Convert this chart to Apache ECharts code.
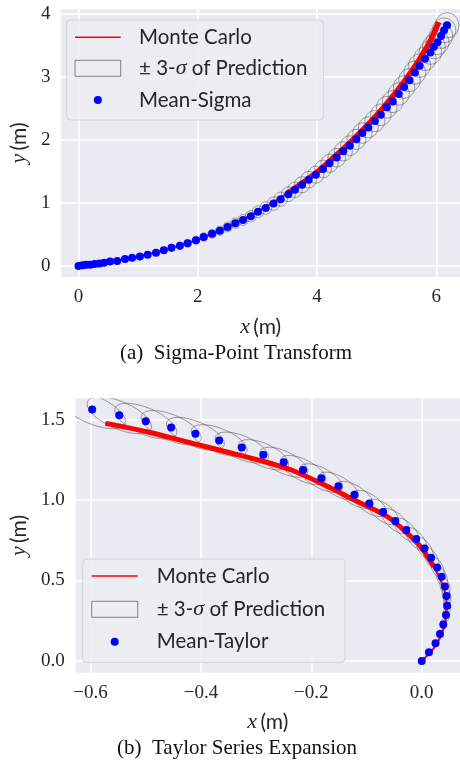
<!DOCTYPE html>
<html><head><meta charset="utf-8">
<script src="https://cdn.jsdelivr.net/npm/echarts@6/dist/echarts.min.js"></script>
<style>html,body{margin:0;padding:0;background:#fff}#c{width:460px;height:771px}</style>
</head><body><div id="c"></div>
<script>
// ---------- (a) Sigma-Point Transform ----------
const sigmaX = [0.00,0.07,0.13,0.20,0.27,0.35,0.43,0.53,0.65,0.78,0.90,1.03,1.16,1.30,1.43,1.56,1.70,1.83,1.97,2.10,2.24,2.37,2.50,2.63,2.76,2.89,3.01,3.14,3.27,3.39,3.52,3.63,3.75,3.86,3.98,4.10,4.21,4.33,4.44,4.55,4.66,4.76,4.86,4.97,5.07,5.17,5.27,5.37,5.46,5.55,5.64,5.72,5.81,5.90,5.96,6.02,6.08,6.13,6.18];
const sigmaY = [0.00,0.01,0.02,0.02,0.03,0.04,0.05,0.07,0.08,0.11,0.13,0.15,0.18,0.21,0.25,0.29,0.32,0.36,0.41,0.46,0.51,0.56,0.62,0.68,0.73,0.79,0.86,0.92,0.99,1.06,1.14,1.21,1.29,1.37,1.45,1.54,1.63,1.72,1.82,1.91,2.01,2.11,2.20,2.30,2.40,2.52,2.61,2.73,2.84,2.95,3.07,3.18,3.29,3.39,3.48,3.55,3.65,3.74,3.82];
// 3-sigma radius (m) of each prediction
const sigma3R = [0.005,0.008,0.011,0.015,0.018,0.021,0.024,0.028,0.031,0.034,0.037,0.041,0.044,0.047,0.050,0.053,0.057,0.060,0.063,0.066,0.070,0.073,0.077,0.081,0.086,0.090,0.095,0.100,0.106,0.112,0.117,0.122,0.127,0.131,0.135,0.139,0.143,0.147,0.151,0.155,0.158,0.161,0.164,0.167,0.170,0.172,0.174,0.176,0.178,0.180,0.182,0.184,0.186,0.188,0.190,0.192,0.194,0.196,0.198];
const mcTopX = [0,0.5,1.0,1.5,2.0,2.5,3.0,3.5,4.0,4.3,4.62,5.10,5.52,5.86,6.04];
const mcTopY = [0,0.06,0.15,0.27,0.42,0.62,0.86,1.15,1.49,1.74,2.02,2.50,3.00,3.50,3.87];
const topXTicks = [0,2,4,6];
const topYTicks = [0,1,2,3,4];

// ---------- (b) Taylor Series Expansion ----------
const taylorX = [0.000,0.013,0.025,0.033,0.039,0.044,0.046,0.045,0.042,0.036,0.028,0.017,0.005,-0.010,-0.028,-0.048,-0.070,-0.095,-0.122,-0.151,-0.182,-0.215,-0.250,-0.287,-0.326,-0.367,-0.410,-0.454,-0.500,-0.548,-0.597];
const taylorY = [0.000,0.054,0.110,0.168,0.226,0.286,0.343,0.403,0.463,0.523,0.581,0.641,0.699,0.757,0.813,0.869,0.925,0.979,1.032,1.086,1.136,1.186,1.235,1.281,1.326,1.370,1.411,1.450,1.490,1.527,1.562];
// 3-sigma half extents (m) and correlation of each prediction
const taylorSx3 = [0.0005,0.0012,0.0024,0.0036,0.0046,0.0056,0.0066,0.0079,0.0092,0.0104,0.0123,0.0141,0.0160,0.0190,0.0220,0.0251,0.0279,0.0306,0.0334,0.0361,0.0389,0.0412,0.0435,0.0458,0.0482,0.0505,0.0524,0.0544,0.0563,0.0583,0.0602];
const taylorSy3 = [0.002,0.008,0.016,0.025,0.031,0.037,0.043,0.048,0.054,0.059,0.063,0.066,0.070,0.072,0.075,0.078,0.080,0.082,0.084,0.087,0.089,0.091,0.093,0.094,0.096,0.098,0.102,0.106,0.111,0.115,0.119];
const taylorRho = [0,-0.05,-0.09,-0.13,-0.17,-0.21,-0.25,-0.31,-0.37,-0.43,-0.50,-0.57,-0.62,-0.63,-0.63,-0.63,-0.63,-0.63,-0.63,-0.63,-0.63,-0.62,-0.61,-0.60,-0.59,-0.59,-0.60,-0.60,-0.61,-0.61,-0.62];
const mcBotX = [-0.573,-0.498,-0.415,-0.355,-0.295,-0.235,-0.176,-0.122,-0.062,-0.026,-0.002,0.022,0.039,0.045,0.043,0.035,0.022,0.000];
const mcBotY = [1.476,1.424,1.352,1.300,1.248,1.185,1.093,1.000,0.896,0.793,0.710,0.586,0.461,0.360,0.250,0.160,0.080,0.000];
const botXTicks = [-0.6,-0.4,-0.2,0.0];
const botYTicks = [0.0,0.5,1.0,1.5];

// ---------- build ----------
const BG = '#EAEAF2', TXT = '#262626';
const serif = 'Liberation Serif', sans = 'Lato';
const zip = (a, b) => a.map((v, i) => [v, b[i]]);

function renderEllipse(params, api) {
  const cx = api.value(0), cy = api.value(1), sx = api.value(2), sy = api.value(3), rho = api.value(4);
  const k = Math.sqrt(Math.max(0, 1 - rho * rho));
  const pts = [];
  for (let i = 0; i <= 80; i++) {
    const t = i / 80 * 2 * Math.PI;
    pts.push(api.coord([cx + sx * Math.cos(t), cy + sy * (rho * Math.cos(t) + k * Math.sin(t))]));
  }
  return { type: 'polyline', shape: { points: pts }, style: { fill: null, stroke: 'rgba(60,60,60,0.55)', lineWidth: 0.9 } };
}

const nameRich = {
  i: { fontFamily: serif, fontStyle: 'italic', fontSize: 22, color: TXT },
  n: { fontFamily: sans, fontSize: 21, color: TXT }
};
function valAxis(idx, min, max, ticks, fmt, isX, gap) {
  return {
    type: 'value', gridIndex: idx, min: min, max: max,
    name: isX ? '{i|x} {n|(m)}' : '{i|y} {n|(m)}',
    nameLocation: 'middle', nameGap: gap,
    nameTextStyle: { rich: nameRich },
    axisLine: { show: false },
    axisTick: { show: false, customValues: ticks },
    axisLabel: { customValues: ticks, formatter: fmt, fontFamily: serif, fontSize: 19, color: TXT, margin: 11 },
    splitLine: { show: true, lineStyle: { color: '#ffffff', width: 1.6 } }
  };
}
const fmtInt = v => String(Math.round(v));
const fmt1 = v => (v < -1e-9 ? '\u2212' : '') + Math.abs(v).toFixed(1);

const topEll = sigmaX.map((x, i) => [x, sigmaY[i], sigma3R[i], sigma3R[i], 0]);
const botEll = taylorX.map((x, i) => [x, taylorY[i], taylorSx3[i], taylorSy3[i], taylorRho[i]]);
const mcTop = zip(mcTopX, mcTopY), mcBot = zip(mcBotX, mcBotY);
const mcTopThick = mcTop.filter(p => p[0] >= 3.5);
const mcBotThick = mcBot.filter(p => p[1] >= 0.55);

const option = {
  animation: false,
  backgroundColor: '#ffffff',
  grid: [
    { left: 55.7, top: 9, width: 404.3, height: 268, show: true, backgroundColor: BG, borderWidth: 0 },
    { left: 71.7, top: 398.3, width: 388.3, height: 274.4, show: true, backgroundColor: BG, borderWidth: 0 }
  ],
  xAxis: [
    valAxis(0, -0.286, 6.397, topXTicks, fmtInt, true, 39),
    valAxis(1, -0.627, 0.0693, botXTicks, fmt1, true, 39)
  ],
  yAxis: [
    valAxis(0, -0.175, 4.079, topYTicks, fmtInt, false, 25),
    valAxis(1, -0.073, 1.632, botYTicks, fmt1, false, 40)
  ],
  series: [
    { type: 'custom', xAxisIndex: 0, yAxisIndex: 0, data: topEll, renderItem: renderEllipse, clip: true, z: 1, encode: { x: 0, y: 1 } },
    { type: 'line', xAxisIndex: 0, yAxisIndex: 0, data: mcTop, smooth: 0.3, showSymbol: false, lineStyle: { color: '#ff0000', width: 2.2 }, z: 2 },
    { type: 'line', xAxisIndex: 0, yAxisIndex: 0, data: mcTopThick, smooth: 0.3, showSymbol: false, lineStyle: { color: '#ff0000', width: 5.5 }, z: 2 },
    { type: 'scatter', xAxisIndex: 0, yAxisIndex: 0, data: zip(sigmaX, sigmaY), symbolSize: 8, itemStyle: { color: '#0000ff', opacity: 1 }, z: 3 },

    { type: 'custom', xAxisIndex: 1, yAxisIndex: 1, data: botEll, renderItem: renderEllipse, clip: true, z: 1, encode: { x: 0, y: 1 } },
    { type: 'line', xAxisIndex: 1, yAxisIndex: 1, data: mcBot, smooth: 0.3, showSymbol: false, lineStyle: { color: '#ff0000', width: 2.2 }, z: 2 },
    { type: 'line', xAxisIndex: 1, yAxisIndex: 1, data: mcBotThick, smooth: 0.3, showSymbol: false, lineStyle: { color: '#ff0000', width: 5 }, z: 2 },
    { type: 'scatter', xAxisIndex: 1, yAxisIndex: 1, data: zip(taylorX, taylorY), symbolSize: 8, itemStyle: { color: '#0000ff', opacity: 1 }, z: 3 }
  ],
  graphic: []
};

function legend(bx, by, bw, bh, rows, hx0, hx1, tx, meanLabel) {
  const g = [];
  g.push({ type: 'rect', shape: { x: bx, y: by, width: bw, height: bh, r: 4 }, style: { fill: 'rgba(236,236,243,0.9)', stroke: '#d2d2d8', lineWidth: 1 }, z: 10 });
  g.push({ type: 'line', shape: { x1: hx0, y1: rows[0], x2: hx1, y2: rows[0] }, style: { stroke: '#ff0000', lineWidth: 1.5 }, z: 11 });
  g.push({ type: 'rect', shape: { x: hx0, y: rows[1] - 8, width: hx1 - hx0, height: 16 }, style: { fill: 'none', stroke: 'rgba(60,60,60,0.6)', lineWidth: 1 }, z: 11 });
  g.push({ type: 'circle', shape: { cx: (hx0 + hx1) / 2, cy: rows[2], r: 4 }, style: { fill: '#0000ff' }, z: 11 });
  const ts = { fontFamily: sans, fontSize: 20.5, fill: TXT, verticalAlign: 'middle', align: 'left' };
  g.push({ type: 'text', x: tx, y: rows[0], style: Object.assign({ text: 'Monte Carlo' }, ts), z: 11 });
  g.push({ type: 'text', x: tx, y: rows[1], style: Object.assign({
    text: '{a|\u00b1 3-}{s|\u03c3}{a| of Prediction}',
    rich: { a: { fontFamily: sans, fontSize: 20.5, fill: TXT }, s: { fontFamily: serif, fontStyle: 'italic', fontSize: 22, fill: TXT } }
  }, ts), z: 11 });
  g.push({ type: 'text', x: tx, y: rows[2], style: Object.assign({ text: meanLabel }, ts), z: 11 });
  return g;
}
option.graphic = option.graphic.concat(
  legend(66.7, 20, 256.6, 100, [37.3, 68.3, 100], 75, 120.7, 139, 'Mean-Sigma'),
  legend(82.7, 559, 262.3, 103.3, [576, 609.3, 641.7], 91.7, 137.7, 156.7, 'Mean-Taylor'),
  [
    { type: 'text', x: 236, y: 353, style: { text: '(a)  Sigma-Point Transform', fontFamily: serif, fontSize: 21, fill: '#111', align: 'center', verticalAlign: 'middle' } },
    { type: 'text', x: 237, y: 748, style: { text: '(b)  Taylor Series Expansion', fontFamily: serif, fontSize: 21, fill: '#111', align: 'center', verticalAlign: 'middle' } }
  ]
);

const chart = echarts.init(document.getElementById('c'), null, { renderer: 'canvas' });
chart.setOption(option);
</script></body></html>
